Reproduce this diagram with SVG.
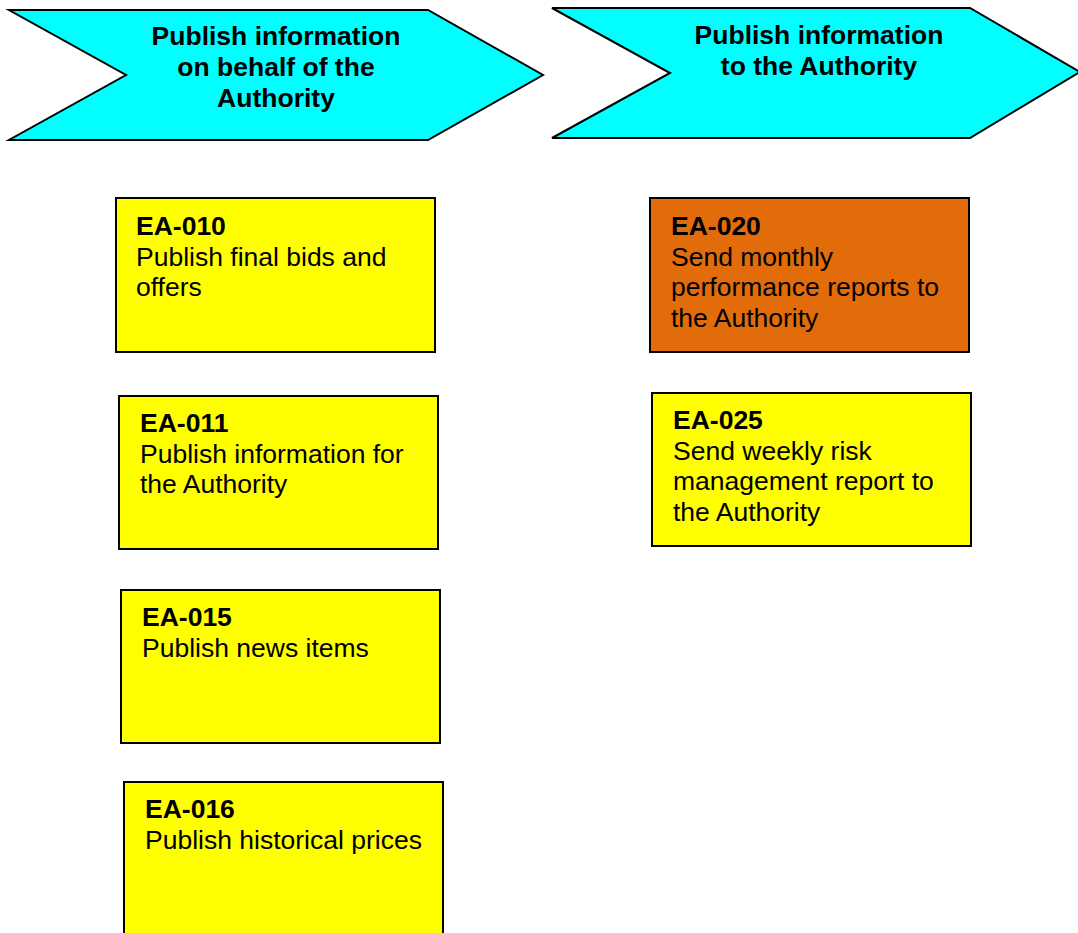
<svg xmlns="http://www.w3.org/2000/svg" width="1078" height="933" viewBox="0 0 1078 933">
<style>
.chev{fill:#00FFFF;stroke:#000;stroke-width:2}
.box{fill:#FFFF00;stroke:#000;stroke-width:2}
.box.or{fill:#E36C0A}
.h{font-family:"Liberation Sans",Arial,sans-serif;font-weight:bold;font-size:26.5px;fill:#000;text-anchor:middle}
.t{font-family:"Liberation Sans",Arial,sans-serif;font-size:26.5px;fill:#000}
.b{font-weight:bold}
</style>
<rect width="1078" height="933" fill="#fff"/>
<g id="phase1">
<polygon class="chev" points="9,10 428,10 543,75 428,140 9,140 126,75"/>
<text class="h" x="276" y="45">Publish information</text>
<text class="h" x="276" y="76">on behalf of the</text>
<text class="h" x="276" y="107">Authority</text>
</g>
<g id="phase2">
<polygon class="chev" points="552,8 970,8 1080,72 970,138 552,138 670,73"/>
<text class="h" x="819" y="44">Publish information</text>
<text class="h" x="819" y="75">to the Authority</text>
</g>
<g id="ea010">
<rect class="box" x="116" y="198" width="319" height="154"/>
<text class="t" x="136" y="235"><tspan class="b">EA-010</tspan><tspan x="136" dy="30.5">Publish final bids and</tspan><tspan x="136" dy="30.5">offers</tspan></text>
</g>
<g id="ea011">
<rect class="box" x="119" y="396" width="319" height="153"/>
<text class="t" x="140" y="432"><tspan class="b">EA-011</tspan><tspan x="140" dy="30.5">Publish information for</tspan><tspan x="140" dy="30.5">the Authority</tspan></text>
</g>
<g id="ea015">
<rect class="box" x="121" y="590" width="319" height="153"/>
<text class="t" x="142" y="626"><tspan class="b">EA-015</tspan><tspan x="142" dy="30.5">Publish news items</tspan></text>
</g>
<g id="ea016">
<rect class="box" x="124" y="782" width="319" height="160"/>
<text class="t" x="145" y="818"><tspan class="b">EA-016</tspan><tspan x="145" dy="30.5">Publish historical prices</tspan></text>
</g>
<g id="ea020">
<rect class="box or" x="650" y="198" width="319" height="154"/>
<text class="t" x="671" y="235"><tspan class="b">EA-020</tspan><tspan x="671" dy="30.5">Send monthly</tspan><tspan x="671" dy="30.5">performance reports to</tspan><tspan x="671" dy="30.5">the Authority</tspan></text>
</g>
<g id="ea025">
<rect class="box" x="652" y="393" width="319" height="153"/>
<text class="t" x="673" y="429"><tspan class="b">EA-025</tspan><tspan x="673" dy="30.5">Send weekly risk</tspan><tspan x="673" dy="30.5">management report to</tspan><tspan x="673" dy="30.5">the Authority</tspan></text>
</g>
<g id="connectors"></g>
</svg>
